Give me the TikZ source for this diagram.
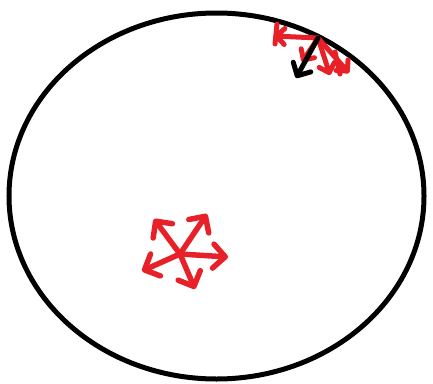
\documentclass[tikz,border=0pt]{standalone}
\usetikzlibrary{arrows.meta}
\definecolor{pen}{RGB}{232,32,40}
\begin{document}
\begin{tikzpicture}[x=1pt,y=-1pt,
  redarrow/.style={draw=pen,color=pen,line width=5.5pt,line cap=round,line join=round,-{Straight Barb[length=12pt,width=24pt,line width=5.5pt,round]}},
  smallred/.style={redarrow,line width=5pt,-{Straight Barb[length=8pt,width=16pt,line width=5pt,round]}},
  blackarrow/.style={draw=black,line width=5pt,line cap=round,-{Straight Barb[length=10pt,width=20pt,line width=5pt,round]}}]
\useasboundingbox (0,0) rectangle (433,383);
\fill[white] (0,0) rectangle (433,383);
% main ellipse
\draw[line width=5pt] (216.5,196) ellipse [x radius=207.5, y radius=183];
% lower star
\coordinate (c) at (180,254);
\coordinate (t1) at (228,257);
\coordinate (t2) at (207,214);
\coordinate (t3) at (154,219);
\coordinate (t4) at (142,271);
\coordinate (t5) at (195,289);
\foreach \t in {t1,t2,t3,t4,t5} \draw[redarrow] (c) -- (\t);
% upper cluster
\coordinate (d) at (318,38);
\coordinate (u1) at (274,36);
\coordinate (u2) at (330,75);
\coordinate (u3) at (349,73);
\coordinate (u4) at (302,62);
\foreach \t in {u1,u2,u3,u4} \draw[smallred] (d) -- (\t);
\draw[pen,line width=5pt,line cap=round] (277,24) -- (275,44);
\draw[pen,line width=5pt,line cap=round] (335,52) -- (340,74);
\coordinate (b) at (296,78);
\draw[blackarrow] (d) -- (b);
\end{tikzpicture}
\end{document}
